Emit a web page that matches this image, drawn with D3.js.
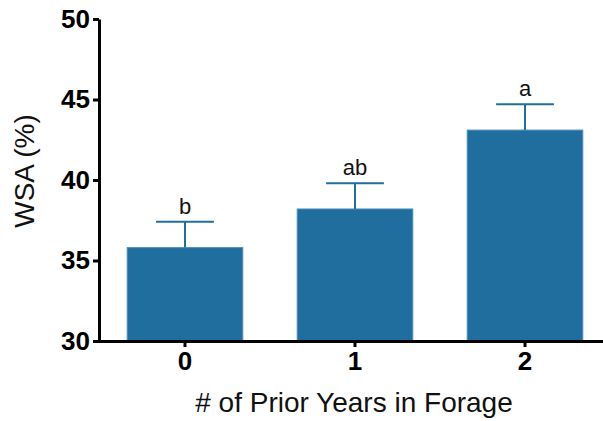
<!DOCTYPE html>
<html>
<head>
<meta charset="utf-8">
<script src="https://cdn.jsdelivr.net/npm/d3@7"></script>
<style>
  body { margin: 0; background: #fff; }
  svg { display: block; font-family: "Liberation Sans", Arial, sans-serif; }
</style>
</head>
<body>
<svg id="chart" width="603" height="421"></svg>
<script>
// data
const years = ['0', '1', '2'];
const wsa = [35.8, 38.2, 43.1];
const wsaErr = [1.6, 1.6, 1.6];
const letters = ['b', 'ab', 'a'];
const yTicks = [30, 35, 40, 45, 50];

const svg = d3.select('#chart');
const barColor = '#206e9d';

const x = d3.scaleBand()
  .domain(years)
  .range([100, 610])
  .paddingInner(0.32)
  .paddingOuter(0.16);

const y = d3.scaleLinear()
  .domain([30, 50])
  .range([341, 19]);

// bars
svg.selectAll('.bar')
  .data(years)
  .join('rect')
  .classed('bar', true)
  .attr('x', d => x(d))
  .attr('width', x.bandwidth())
  .attr('y', (d, i) => y(wsa[i]))
  .attr('height', (d, i) => y(30) - y(wsa[i]))
  .style('fill', barColor)
  .style('stroke', '#4d8db8')
  .style('stroke-width', 1);

// error bars (upper only)
svg.selectAll('.err')
  .data(years)
  .join('line')
  .classed('err', true)
  .attr('x1', d => x(d) + x.bandwidth() / 2)
  .attr('x2', d => x(d) + x.bandwidth() / 2)
  .attr('y1', (d, i) => y(wsa[i]))
  .attr('y2', (d, i) => y(wsa[i] + wsaErr[i]))
  .style('stroke', barColor)
  .style('stroke-width', 2);

svg.selectAll('.cap')
  .data(years)
  .join('line')
  .classed('cap', true)
  .attr('x1', d => x(d) + x.bandwidth() / 4)
  .attr('x2', d => x(d) + x.bandwidth() * 3 / 4)
  .attr('y1', (d, i) => y(wsa[i] + wsaErr[i]))
  .attr('y2', (d, i) => y(wsa[i] + wsaErr[i]))
  .style('stroke', barColor)
  .style('stroke-width', 2);

// significance letters
svg.selectAll('.letter')
  .data(years)
  .join('text')
  .classed('letter', true)
  .attr('x', d => x(d) + x.bandwidth() / 2)
  .attr('y', (d, i) => y(wsa[i] + wsaErr[i]) - 8)
  .attr('text-anchor', 'middle')
  .style('font-size', '22px')
  .style('fill', '#111')
  .text((d, i) => letters[i]);

// y axis
const yAxis = svg.append('g')
  .attr('transform', 'translate(99,0)')
  .call(d3.axisLeft(y).tickValues(yTicks).tickSize(6).tickSizeOuter(0).tickPadding(3));

// x axis
const xAxis = svg.append('g')
  .attr('transform', `translate(0,${y(30)})`)
  .call(d3.axisBottom(x).tickSize(6).tickSizeOuter(0).tickPadding(5));

xAxis.select('.domain').attr('d', 'M97.5,0.5H603');

[yAxis, xAxis].forEach(g => {
  g.select('.domain').style('stroke', '#000').style('stroke-width', 3);
  g.selectAll('.tick line').style('stroke', '#000').style('stroke-width', 3);
  g.selectAll('.tick text')
    .style('font-size', '26px')
    .style('font-weight', 'bold')
    .style('font-family', '"Liberation Sans", Arial, sans-serif')
    .style('fill', '#000');
});

// axis titles
svg.append('text')
  .attr('x', 354)
  .attr('y', 412)
  .attr('text-anchor', 'middle')
  .style('font-size', '28px')
  .style('fill', '#111')
  .text('# of Prior Years in Forage');

svg.append('text')
  .attr('transform', 'translate(34,171) rotate(-90)')
  .attr('text-anchor', 'middle')
  .style('font-size', '28px')
  .style('fill', '#111')
  .text('WSA (%)');
</script>
</body>
</html>
